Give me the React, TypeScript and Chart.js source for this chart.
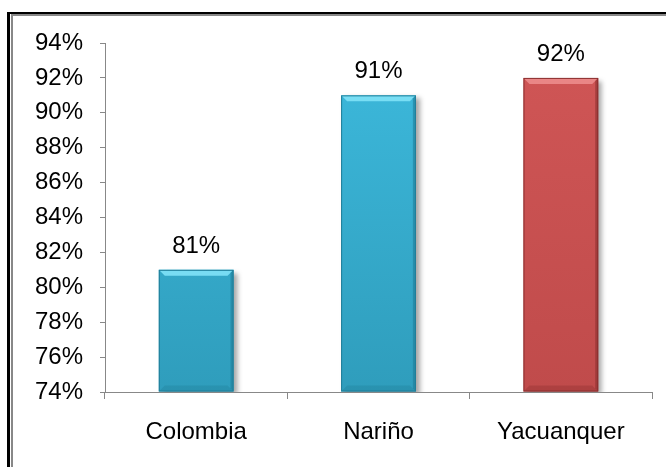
import React, { useEffect, useRef } from "react";
import { Chart, registerables } from "chart.js";

Chart.register(...registerables);

const categories = ["Colombia", "Nariño", "Yacuanquer"];
const values = [81, 91, 92];
const yTicks = [74, 76, 78, 80, 82, 84, 86, 88, 90, 92, 94];
const barColors = ["#3dbadd", "#3dbadd", "#d05656"];
const barBottom = ["#2f9dbc", "#2f9dbc", "#c04b4b"];
const barDark = ["#1f7d98", "#1f7d98", "#8a2e2e"];
const barLight = ["#80e2f7", "#80e2f7", "#ec8c8c"];

const FONT = "'Liberation Sans', Arial, sans-serif";

const shadowPlugin = {
  id: "barShadow",
  beforeDatasetsDraw(chart: any) {
    const ctx = chart.ctx;
    ctx.save();
    ctx.shadowColor = "rgba(0,0,0,0.35)";
    ctx.shadowOffsetX = 4;
    ctx.shadowOffsetY = 3;
    ctx.shadowBlur = 5;
  },
  afterDatasetsDraw(chart: any) {
    const ctx = chart.ctx;
    ctx.restore();
    const meta = chart.getDatasetMeta(0);
    const bottom = chart.chartArea.bottom;
    meta.data.forEach((bar: any, i: number) => {
      const w = bar.width;
      const l = bar.x - w / 2;
      const r = bar.x + w / 2;
      const t = bar.y;
      const b = Math.min(bar.base, bottom);
      const bev = 6;
      ctx.save();
      ctx.beginPath();
      ctx.moveTo(l, t);
      ctx.lineTo(r, t);
      ctx.lineTo(r - bev, t + bev);
      ctx.lineTo(l + bev, t + bev);
      ctx.closePath();
      ctx.fillStyle = barLight[i];
      ctx.globalAlpha = 0.9;
      ctx.fill();
      ctx.beginPath();
      ctx.moveTo(r, t);
      ctx.lineTo(r, b);
      ctx.lineTo(r - 3, b - 3);
      ctx.lineTo(r - 3, t + 3);
      ctx.closePath();
      ctx.fillStyle = barDark[i];
      ctx.globalAlpha = 0.6;
      ctx.fill();
      ctx.beginPath();
      ctx.moveTo(l, b);
      ctx.lineTo(r, b);
      ctx.lineTo(r - bev, b - bev);
      ctx.lineTo(l + bev, b - bev);
      ctx.closePath();
      ctx.fillStyle = barDark[i];
      ctx.globalAlpha = 0.35;
      ctx.fill();
      ctx.globalAlpha = 1;
      ctx.strokeStyle = barDark[i];
      ctx.lineWidth = 1;
      ctx.strokeRect(l + 0.5, t + 0.5, w - 1, b - t - 1);
      ctx.restore();
      ctx.save();
      ctx.fillStyle = "#000";
      ctx.font = `24px ${FONT}`;
      ctx.textAlign = "center";
      ctx.textBaseline = "alphabetic";
      ctx.fillText(values[i] + "%", bar.x, t - 17);
      ctx.restore();
    });
  },
};

export default function App() {
  const ref = useRef<HTMLCanvasElement>(null);
  useEffect(() => {
    const canvas = ref.current!;
    const chart = new Chart(canvas, {
      type: "bar",
      data: {
        labels: categories,
        datasets: [
          {
            data: values,
            base: 74,
            backgroundColor: (c: any) => {
              const i = c.dataIndex;
              const area = c.chart.chartArea;
              if (!area) return barColors[i];
              const g = c.chart.ctx.createLinearGradient(0, area.top, 0, area.bottom);
              g.addColorStop(0, barColors[i]);
              g.addColorStop(1, barBottom[i]);
              return g;
            },
            borderWidth: 0,
            barPercentage: 0.41,
            categoryPercentage: 1,
          },
        ],
      },
      options: {
        responsive: false,
        animation: false,
        layout: { padding: { top: 43, right: 14, left: 0, bottom: 0 } },
        plugins: { legend: { display: false }, tooltip: { enabled: false } },
        scales: {
          x: {
            offset: true,
            grid: {
              offset: true,
              drawOnChartArea: false,
              drawTicks: true,
              tickLength: 7,
              color: "#888",
            },
            border: { display: true, color: "#888" },
            ticks: { color: "#000", font: { family: FONT, size: 24 }, padding: 19 },
            afterFit: (s: any) => {
              s.height = 75;
            },
          },
          y: {
            min: 74,
            max: 94,
            afterBuildTicks: (s: any) => {
              s.ticks = yTicks.map((v) => ({ value: v }));
            },
            grid: { drawOnChartArea: false, drawTicks: true, tickLength: 5, color: "#888" },
            border: { display: true, color: "#888" },
            ticks: {
              color: "#000",
              font: { family: FONT, size: 24 },
              padding: 17,
              callback: (v: any) => v + "%",
            },
            afterFit: (s: any) => {
              s.width = 105;
            },
          },
        },
      },
      plugins: [shadowPlugin],
    });
    return () => chart.destroy();
  }, []);
  return (
    <div style={{ position: "absolute", left: 0, top: 0, width: 666, height: 467, background: "#fff", overflow: "hidden" }}>
      <div style={{ position: "absolute", left: 7, top: 12, width: 659, height: 2, background: "#000" }} />
      <div style={{ position: "absolute", left: 7, top: 12, width: 3, height: 455, background: "#000" }} />
      <div style={{ position: "absolute", left: 11, top: 14, width: 655, height: 2, background: "#888" }} />
      <div style={{ position: "absolute", left: 11, top: 14, width: 2, height: 453, background: "#888" }} />
      <canvas ref={ref} width={666} height={467} style={{ position: "absolute", left: 0, top: 0 }} />
    </div>
  );
}
